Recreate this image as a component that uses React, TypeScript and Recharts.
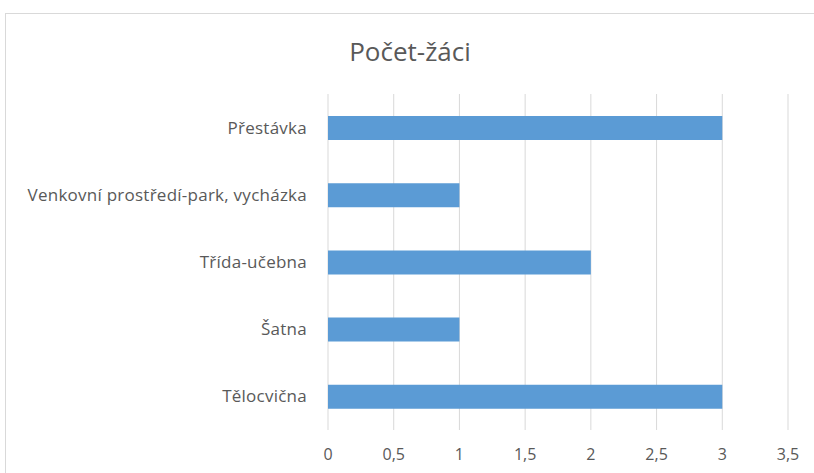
import { BarChart, Bar, XAxis, YAxis, CartesianGrid } from "recharts";

const categories = [
  "Přestávka",
  "Venkovní prostředí-park, vycházka",
  "Třída-učebna",
  "Šatna",
  "Tělocvična",
];
const counts = [3, 1, 2, 1, 3];
const xTicks = [0, 0.5, 1, 1.5, 2, 2.5, 3, 3.5];

const FONT = "'Open Sans', Lato, sans-serif";
const TEXT = "#595959";
const GRID = "#d9d9d9";

export default function App() {
  const chartData = categories.map((name, i) => ({ name, value: counts[i] }));

  return (
    <div style={{ position: "absolute", left: 0, top: 0, width: 814, height: 473, overflow: "hidden", background: "#fff" }}>
      {/* rámeček grafu */}
      <div
        style={{
          position: "absolute",
          left: 5,
          top: 13,
          width: 900,
          height: 600,
          border: `1px solid ${GRID}`,
        }}
      />
      <div
        style={{
          position: "absolute",
          left: 0,
          top: 51,
          width: 814,
          textAlign: "center",
          fontFamily: FONT,
          fontSize: 26,
          color: TEXT,
          lineHeight: "0px",
          paddingLeft: 6,
          boxSizing: "border-box",
        }}
      >
        Počet-žáci
      </div>
      <div style={{ position: "absolute", left: 0, top: 0 }}>
        <BarChart
          width={814}
          height={473}
          data={chartData}
          layout="vertical"
          margin={{ top: 94, right: 26, bottom: 0, left: 0 }}
        >
          <CartesianGrid horizontal={false} stroke={GRID} />
          <XAxis
            type="number"
            domain={[0, 3.5]}
            ticks={xTicks}
            height={43}
            axisLine={false}
            tickLine={false}
            tickMargin={13}
            tickFormatter={(v: number) => String(v).replace(".", ",")}
            tick={{ fill: TEXT, fontSize: 16, fontFamily: FONT }}
          />
          <YAxis
            type="category"
            dataKey="name"
            width={328}
            axisLine={false}
            tickLine={false}
            tickMargin={15}
            tick={{ fill: TEXT, fontSize: 17, fontFamily: FONT, letterSpacing: 0.25 }}
          />
          <Bar dataKey="value" fill="#5b9bd5" barSize={24} isAnimationActive={false} />
        </BarChart>
      </div>
    </div>
  );
}
